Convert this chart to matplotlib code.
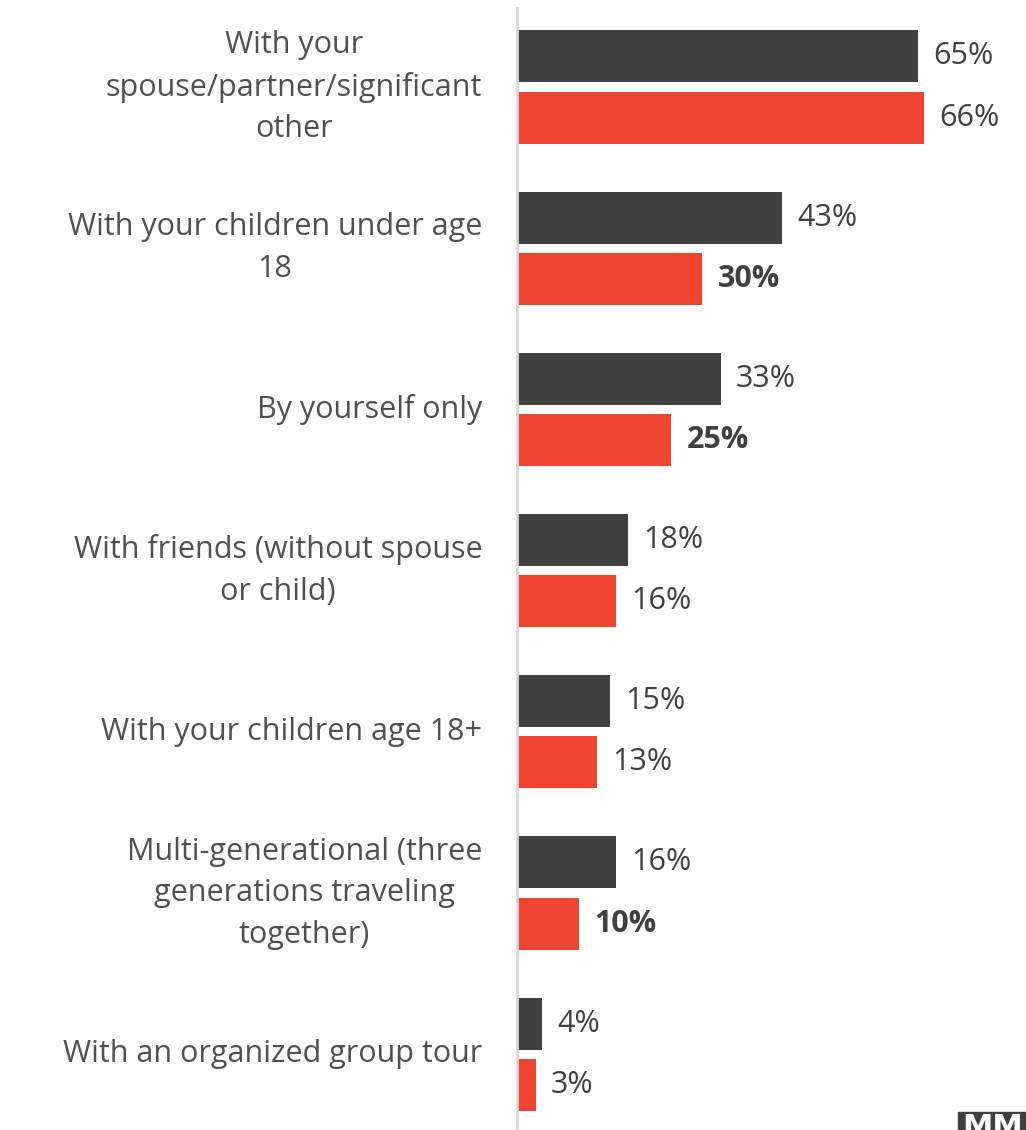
import matplotlib
matplotlib.use("Agg")
import matplotlib.pyplot as plt
from matplotlib.patches import Rectangle

categories = [
    "With your\nspouse/partner/significant\nother",
    "With your children under age\n18",
    "By yourself only",
    "With friends (without spouse\nor child)",
    "With your children age 18+",
    "Multi-generational (three\ngenerations traveling\ntogether)",
    "With an organized group tour",
]
dark_vals = [65, 43, 33, 18, 15, 16, 4]
red_vals = [66, 30, 25, 16, 13, 10, 3]
red_bold = [False, True, True, False, False, True, False]

DARK = "#404040"
RED = "#EE4431"
TXT = "#505050"
FONT = ["Open Sans", "DejaVu Sans"]

W, H = 1026, 1130
fig = plt.figure(figsize=(W / 100, H / 100), dpi=100)
ax = fig.add_axes([517 / W, 0, 1 - 517 / W, 1 - 8 / H])

off = 0.19
h = 0.323
ys = list(range(len(categories)))
ax.barh([y - off for y in ys], dark_vals, height=h, color=DARK, align="center")
ax.barh([y + off for y in ys], red_vals, height=h, color=RED, align="center")

for y, v in zip(ys, dark_vals):
    ax.annotate(f"{v}%", (v, y - off), xytext=(11, 0), textcoords="offset points",
                va="center", ha="left", fontsize=22, color=DARK, family=FONT)
for y, v, b in zip(ys, red_vals, red_bold):
    ax.annotate(f"{v}%", (v, y + off), xytext=(11, 0), textcoords="offset points",
                va="center", ha="left", fontsize=22, color=DARK, family=FONT,
                fontweight="bold" if b else "normal")

for y, c in zip(ys, categories):
    ax.annotate(c, (0, y), xytext=(-25, 0), textcoords="offset points",
                va="center", ha="right", multialignment="center",
                fontsize=22, color=TXT, family=FONT,
                linespacing=1.5, annotation_clip=False)

ax.set_xlim(0, (W - 517) / 6.17)
ax.set_ylim(6.47, -0.49)
for s in ["top", "right", "bottom"]:
    ax.spines[s].set_visible(False)
ax.spines["left"].set_color("#d9d9d9")
ax.spines["left"].set_linewidth(2)
ax.set_xticks([])
ax.set_yticks([])

# cut-off logo in the corner
fig.patches.append(Rectangle((958 / W, 0), 1, 18 / H, transform=fig.transFigure,
                             color=DARK, zorder=5))
fig.text(962 / W, 2 / H, "MM", color="white", fontsize=22, fontweight="bold",
         va="center", ha="left", zorder=6)

fig.savefig("out.png", dpi=100)
